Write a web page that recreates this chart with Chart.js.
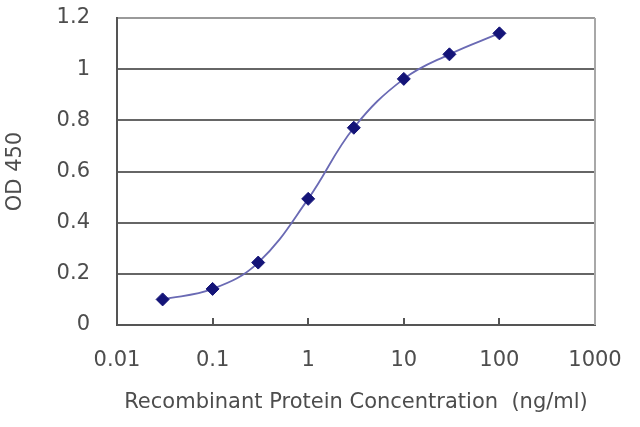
<!DOCTYPE html>
<html>
<head>
<meta charset="utf-8">
<script src="https://cdn.jsdelivr.net/npm/chart.js@4.4.1/dist/chart.umd.min.js"></script>
<style>
  html, body { margin: 0; padding: 0; background: #fff; }
  #wrap { width: 640px; height: 427px; }
</style>
</head>
<body>
<div id="wrap"><canvas id="chart" width="640" height="427"></canvas></div>
<script>
// concentration (ng/ml) vs OD 450
const concentrations = [0.03, 0.1, 0.3, 1, 3, 10, 30, 100];
const od450 = [0.100, 0.141, 0.244, 0.493, 0.771, 0.962, 1.058, 1.140];
const xTicks = [0.01, 0.1, 1, 10, 100, 1000];
const yMax = 1.2;
const yStep = 0.2;

const textColor = '#4d4d4d';
const font = { family: "'DejaVu Sans', 'Liberation Sans', Arial, sans-serif", size: 21 };

// right border of the plot and the small inward ticks on the x axis
const frame = {
    id: 'frame',
    beforeDatasetsDraw(chart) {
        const { ctx, chartArea: a, scales: { x } } = chart;
        ctx.save();
        ctx.strokeStyle = '#a8a8a8';
        ctx.lineWidth = 2;
        ctx.beginPath();
        ctx.moveTo(a.right, a.top);
        ctx.lineTo(a.right, a.bottom);
        ctx.stroke();
        ctx.strokeStyle = '#555';
        ctx.beginPath();
        xTicks.slice(1, -1).forEach(v => {
            const px = Math.round(x.getPixelForValue(v));
            ctx.moveTo(px, a.bottom);
            ctx.lineTo(px, a.bottom - 7);
        });
        ctx.stroke();
        ctx.restore();
    }
};

// keep the plot box where it is, ignore label overhang
const noOverhang = s => { s.paddingTop = 0; s.paddingBottom = 0; s.paddingLeft = 0; s.paddingRight = 0; };

new Chart(document.getElementById('chart'), {
    type: 'scatter',
    data: {
        datasets: [{
            data: concentrations.map((c, i) => ({ x: c, y: od450[i] })),
            showLine: true,
            tension: 0.4,
            borderColor: '#6a6ab4',
            borderWidth: 1.8,
            pointStyle: 'rectRot',
            pointRadius: 6.5,
            pointBorderWidth: 1,
            pointBackgroundColor: '#141478',
            pointBorderColor: '#141478'
        }]
    },
    options: {
        responsive: false,
        devicePixelRatio: 1,
        animation: false,
        layout: { padding: { left: 3, top: 18, right: 45, bottom: 12 } },
        plugins: { legend: { display: false }, tooltip: { enabled: false } },
        scales: {
            x: {
                type: 'logarithmic',
                min: xTicks[0],
                max: xTicks[xTicks.length - 1],
                afterBuildTicks: s => { s.ticks = xTicks.map(v => ({ value: v })); },
                afterFit: s => { s.height = 90; noOverhang(s); },
                grid: { display: false, drawTicks: false },
                border: { display: true, color: '#555', width: 2 },
                ticks: {
                    color: textColor, font, padding: 23, maxRotation: 0, autoSkip: false,
                    callback: v => String(v)
                },
                title: {
                    display: true,
                    text: 'Recombinant Protein Concentration  (ng/ml)',
                    color: textColor, font, padding: 0
                }
            },
            y: {
                min: 0,
                max: yMax,
                afterFit: s => { s.width = 114; noOverhang(s); },
                grid: {
                    drawTicks: false,
                    lineWidth: 2,
                    color: c => (c.tick && c.tick.value >= yMax - 1e-9) ? '#9a9a9a' : '#666'
                },
                border: { display: true, color: '#555', width: 2 },
                ticks: {
                    stepSize: yStep, color: textColor, font, padding: 27,
                    callback: v => String(+v.toFixed(1))
                },
                title: {
                    display: true, text: 'OD 450', color: textColor, font, padding: 0
                }
            }
        }
    },
    plugins: [frame]
});
</script>
</body>
</html>
